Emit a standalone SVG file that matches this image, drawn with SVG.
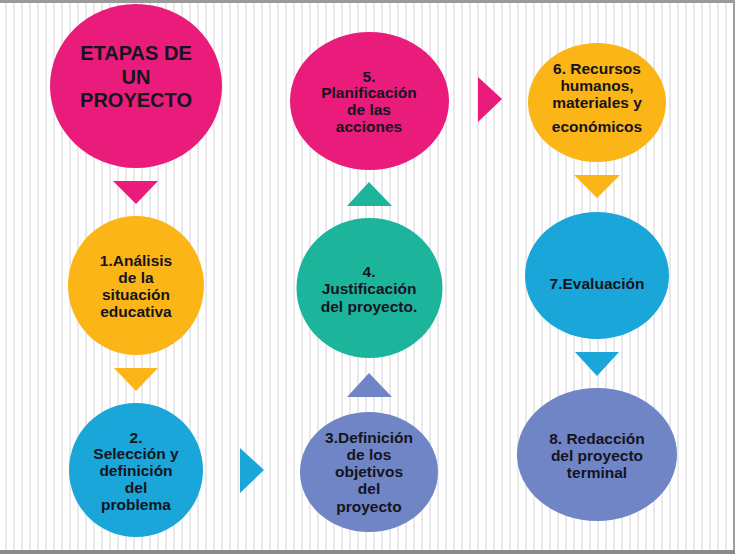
<svg xmlns="http://www.w3.org/2000/svg" width="735" height="554" viewBox="0 0 735 554">
<defs>
<pattern id="stripes" x="0" y="0" width="8" height="10" patternUnits="userSpaceOnUse">
<rect x="0" y="0" width="8" height="10" fill="#ffffff"/>
<rect x="5" y="0" width="2" height="10" fill="#e9e9ec"/>
</pattern>
</defs>
<style>
.t{font-family:"Liberation Sans",Arial,sans-serif;font-weight:bold;font-size:15.5px;fill:#14141e;text-anchor:middle}
.big{font-size:20px}
.pink{fill:#e91b7b}
.yellow{fill:#fbb516}
.blue{fill:#1aa6d8}
.teal{fill:#1db49c}
.purple{fill:#7085c5}
</style>
<rect x="0" y="0" width="735" height="554" fill="url(#stripes)"/>
<rect x="0" y="0" width="735" height="3" fill="#9a9a9a"/>
<rect x="733" y="0" width="2" height="554" fill="#a0a0a0"/>
<rect x="0" y="550" width="735" height="4" fill="#8a8a8a"/>

<g id="connectors">
<polygon class="pink" points="113,181 158,181 136,204"/>
<polygon class="yellow" points="114,368 158,368 136,391"/>
<polygon class="blue" points="240,448 240,493 264,470"/>
<polygon class="purple" points="347,397 392,397 369,373"/>
<polygon class="teal" points="347,206 392,206 369,182"/>
<polygon class="pink" points="478,77 478,122 502,99"/>
<polygon class="yellow" points="574,175 620,175 597,198"/>
<polygon class="blue" points="575,352 619,352 597,376"/>
</g>

<g id="title">
<ellipse class="pink" cx="136" cy="86" rx="86" ry="82"/>
<text class="t big" x="136" y="60">ETAPAS DE</text>
<text class="t big" x="136" y="84">UN</text>
<text class="t big" x="136" y="107">PROYECTO</text>
</g>

<g id="n1">
<ellipse class="yellow" cx="136" cy="285.5" rx="68" ry="69.5"/>
<text class="t" x="136" y="266">1.Análisis</text>
<text class="t" x="136" y="283">de la</text>
<text class="t" x="136" y="300">situación</text>
<text class="t" x="136" y="317">educativa</text>
</g>

<g id="n2">
<ellipse class="blue" cx="136" cy="470" rx="67" ry="67"/>
<text class="t" x="136" y="443">2.</text>
<text class="t" x="136" y="459">Selección y</text>
<text class="t" x="136" y="476">definición</text>
<text class="t" x="136" y="493">del</text>
<text class="t" x="136" y="510">problema</text>
</g>

<g id="n3">
<ellipse class="purple" cx="369" cy="472" rx="69" ry="60"/>
<text class="t" x="369" y="443">3.Definición</text>
<text class="t" x="369" y="460">de los</text>
<text class="t" x="369" y="477">objetivos</text>
<text class="t" x="369" y="494">del</text>
<text class="t" x="369" y="512">proyecto</text>
</g>

<g id="n4">
<ellipse class="teal" cx="369.5" cy="288" rx="73" ry="70"/>
<text class="t" x="369" y="277">4.</text>
<text class="t" x="369" y="294">Justificación</text>
<text class="t" x="369" y="312">del proyecto.</text>
</g>

<g id="n5">
<ellipse class="pink" cx="369.5" cy="101" rx="79.5" ry="69"/>
<text class="t" x="369" y="82">5.</text>
<text class="t" x="369" y="98">Planificación</text>
<text class="t" x="369" y="115">de las</text>
<text class="t" x="369" y="132">acciones</text>
</g>

<g id="n6">
<ellipse class="yellow" cx="597" cy="102.5" rx="69" ry="59.5"/>
<text class="t" x="597" y="74">6. Recursos</text>
<text class="t" x="597" y="91">humanos,</text>
<text class="t" x="597" y="108">materiales y</text>
<text class="t" x="597" y="132">económicos</text>
</g>

<g id="n7">
<ellipse class="blue" cx="597" cy="275.5" rx="72" ry="63.5"/>
<text class="t" x="597" y="289">7.Evaluación</text>
</g>

<g id="n8">
<ellipse class="purple" cx="597" cy="454.5" rx="80" ry="66.5"/>
<text class="t" x="597" y="444">8. Redacción</text>
<text class="t" x="597" y="461">del proyecto</text>
<text class="t" x="597" y="478">terminal</text>
</g>
</svg>
